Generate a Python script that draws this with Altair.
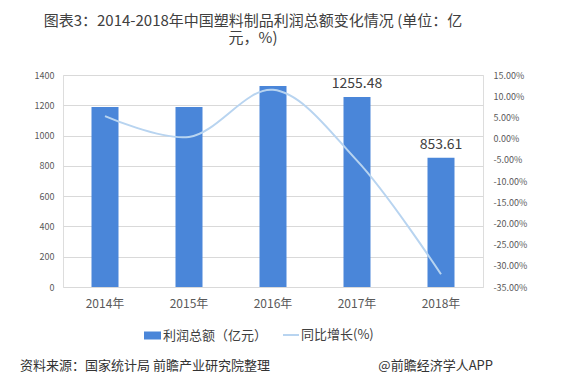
import altair as alt
import pandas as pd

years = ["2014年", "2015年", "2016年", "2017年", "2018年"]
profit = [1188.4, 1188.4, 1328.0, 1255.48, 853.61]
growth = [0.053, 0.004, 0.115, -0.052, -0.32]
bar_labels = ["", "", "", "1255.48", "853.61"]
bar_series = "利润总额（亿元）"
line_series = "同比增长(%)"
left_ticks = [0, 200, 400, 600, 800, 1000, 1200, 1400]
right_ticks = [0.15, 0.10, 0.05, 0.0, -0.05, -0.10, -0.15, -0.20, -0.25, -0.30, -0.35]
title_lines = ["图表3：2014-2018年中国塑料制品利润总额变化情况 (单位：亿", "元，%)"]
source_text = "资料来源：国家统计局 前瞻产业研究院整理"
brand_text = "@前瞻经济学人APP"

FONT = "Noto Sans CJK SC"
BAR_COLOR = "#4a86d9"
LINE_COLOR = "#b8d4f0"

df = pd.DataFrame({
    "year": years,
    "profit": profit,
    "growth": growth,
    "label": bar_labels,
    "bs": [bar_series] * len(years),
    "ls": [line_series] * len(years),
})

x_enc = alt.X(
    "year:N", sort=years,
    scale=alt.Scale(paddingInner=0.68, paddingOuter=0.34),
    axis=alt.Axis(title=None, labelAngle=0, labelFontSize=12, labelColor="#595959",
                  labelPadding=11, ticks=False, domain=False, labelFont=FONT),
)

left_axis = alt.Axis(title=None, values=left_ticks, tickCount=8, grid=True,
                     gridColor="#d9d9d9", domain=False, ticks=False, labelFontSize=9,
                     labelColor="#595959", labelPadding=9, labelFont=FONT, format="d",
                     labelOverlap=False)
left_scale = alt.Scale(domain=[0, 1400], nice=False)

bars = alt.Chart(df).mark_bar(size=27).encode(
    x=x_enc,
    y=alt.Y("profit:Q", scale=left_scale, axis=left_axis),
    color=alt.Color(
        "bs:N",
        scale=alt.Scale(domain=[bar_series], range=[BAR_COLOR]),
        legend=alt.Legend(title=None, orient="none", legendX=80, legendY=251,
                          symbolType="M-1,-0.47H1V0.47H-1Z", symbolSize=289,
                          symbolOpacity=1, labelFontSize=13, labelColor="#404040",
                          labelFont=FONT, labelOffset=1),
    ),
)

texts = alt.Chart(df).mark_text(dy=-13, fontSize=14, color="#404040", font=FONT).encode(
    x=x_enc,
    y=alt.Y("profit:Q", scale=left_scale, axis=left_axis),
    text="label:N",
)

line = alt.Chart(df).mark_line(interpolate="catmull-rom", strokeWidth=2).encode(
    x=x_enc,
    y=alt.Y(
        "growth:Q",
        scale=alt.Scale(domain=[-0.35, 0.15], nice=False),
        axis=alt.Axis(title=None, values=right_ticks, tickCount=11, orient="right",
                      grid=False, domain=False, ticks=False, format=".2%",
                      labelFontSize=9, labelColor="#595959", labelPadding=10,
                      labelFont=FONT, labelOverlap=False,
                      labelExpr="replace(datum.label, '\u2212', '-')"),
    ),
    stroke=alt.Stroke(
        "ls:N",
        scale=alt.Scale(domain=[line_series], range=[LINE_COLOR]),
        legend=alt.Legend(title=None, orient="none", legendX=219, legendY=251,
                          symbolType="stroke", symbolSize=256, symbolStrokeWidth=2,
                          labelFontSize=13, labelColor="#404040", labelFont=FONT,
                          labelOffset=1),
    ),
)

foot_df = pd.DataFrame({"t": [source_text]})
brand_df = pd.DataFrame({"t": [brand_text]})
footer = alt.Chart(foot_df).mark_text(align="left", baseline="middle", fontSize=13,
                                      color="#333333", font=FONT).encode(
    x=alt.value(-43), y=alt.value(291), text="t:N")
brand = alt.Chart(brand_df).mark_text(align="right", baseline="middle", fontSize=13,
                                      color="#333333", font=FONT).encode(
    x=alt.value(430), y=alt.value(291), text="t:N")

chart = alt.layer(
    alt.layer(bars, texts),
    line,
    footer,
    brand,
).resolve_scale(y="independent", color="independent").properties(
    width=420,
    height=212,
    title=alt.Title(title_lines, fontSize=15, font=FONT, color="#404040",
                    fontWeight="normal", anchor="middle", dx=-20, offset=20,
                    lineHeight=17),
    autosize=alt.AutoSizeParams(type="none"),
    padding={"left": 55, "top": 67, "right": 81, "bottom": 87},
).configure_view(stroke=None).configure(background="white")

chart.save("out.html", embed_options={"renderer": "svg", "actions": False})
